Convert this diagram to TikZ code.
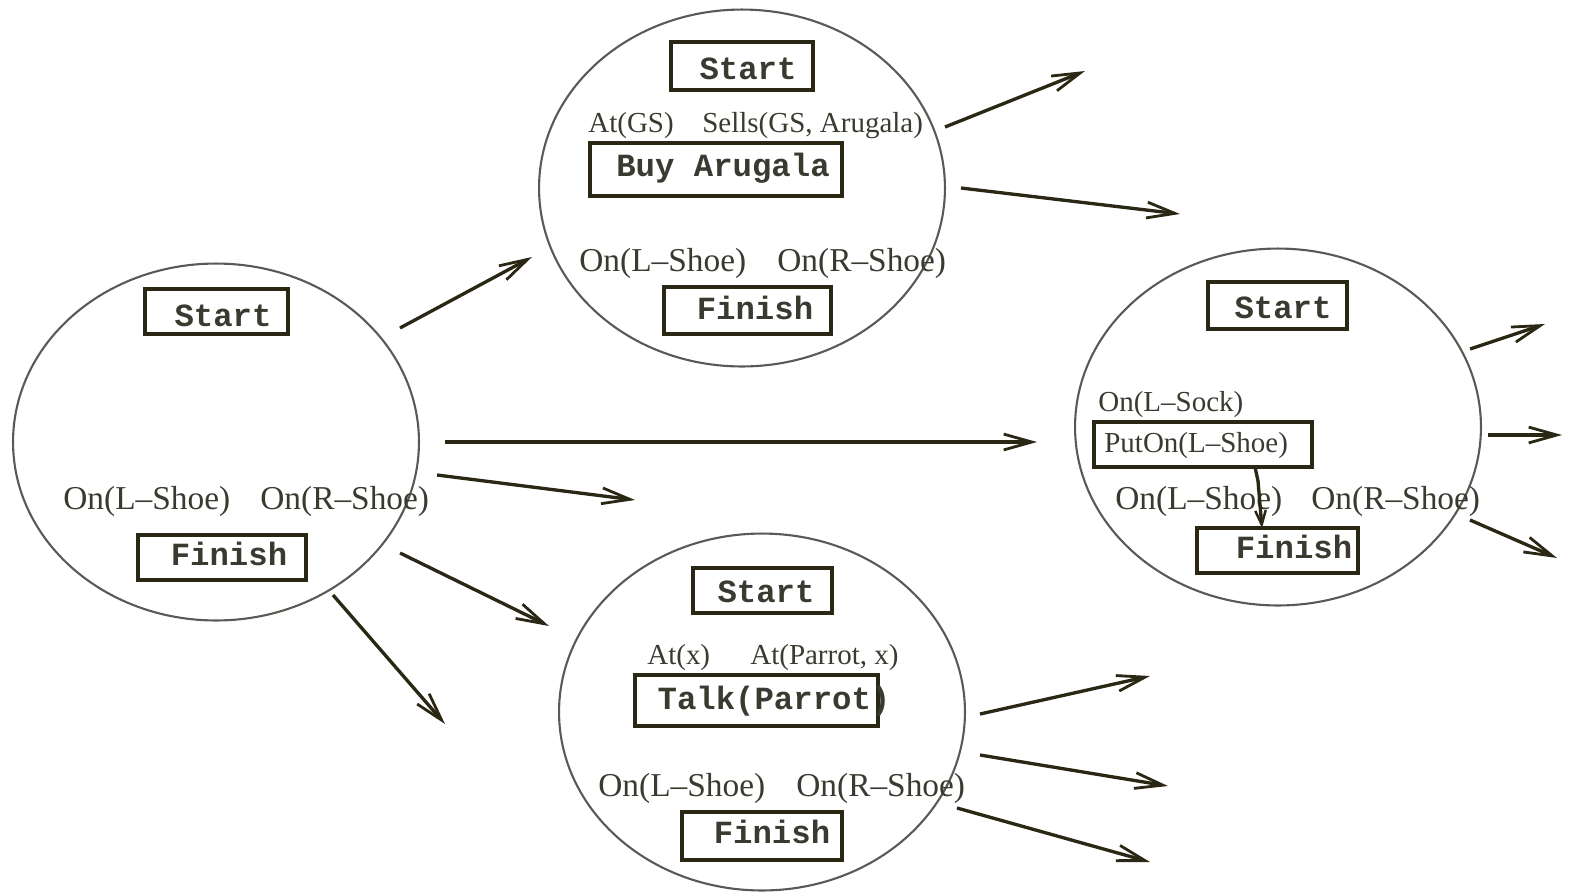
\documentclass[tikz,border=0pt]{standalone}
\usepackage{fontspec}
\setmainfont{Liberation Serif}
\setmonofont{Liberation Mono}
\usetikzlibrary{arrows.meta,shapes.geometric}
\definecolor{ink}{HTML}{2A2814}
\definecolor{ring}{HTML}{5A5A55}
\definecolor{txt}{HTML}{3A3A30}
\begin{document}
\begin{tikzpicture}[x=0.02cm,y=-0.02cm,
  state/.style={ellipse, draw=ring, line width=1.2pt, inner sep=0pt,
    minimum width=8.12cm, minimum height=7.14cm},
  act/.style 2 args={draw=ink, line width=1.9pt, inner sep=0pt,
    minimum width=#1*0.02cm, minimum height=#2*0.02cm},
  mono/.style={font=\fontsize{18.4}{20}\selectfont\ttfamily\bfseries, text=txt, inner sep=0pt},
  big/.style={font=\fontsize{19}{21}\selectfont, text=txt, inner sep=0pt, anchor=west, yshift=-0.06cm},
  small/.style={font=\fontsize{16.5}{18}\selectfont, text=txt, inner sep=0pt, anchor=west, yshift=-0.07cm},
  flow/.style={draw=ink, line width=1.9pt,
    -{Straight Barb[length=16pt,width=9pt,line width=1.6pt]}},
  link/.style={draw=ink, line width=1.9pt,
    -{Straight Barb[length=8pt,width=6pt,line width=1.4pt]}}]
\useasboundingbox (0,0) rectangle (1569,894);

% ---- initial plan ----
\node[state] (P0) at (216,442) {};
\node[act={143}{45}] (p0s) at (216.5,311.5) {};
\node[mono] (p0st) at (223,316) {Start};
\node[big] (p0a) at (63,498) {On(L–Shoe)};
\node[big] (p0b) at (260,498) {On(R–Shoe)};
\node[act={168}{45}] (p0f) at (222,557.5) {};
\node[mono] (p0ft) at (229,554) {Finish};

% ---- refinement: buy arugala ----
\node[state] (P1) at (742,188) {};
\node[act={142}{48}] (p1s) at (742,66) {};
\node[mono] (p1st) at (748,69) {Start};
\node[small] (p1a) at (588,122) {At(GS)};
\node[small] (p1b) at (702,122) {Sells(GS, Arugala)};
\node[act={252}{53}] (p1x) at (716,169.5) {};
\node[mono] (p1xt) at (723,168) {Buy Arugala};
\node[big] (p1c) at (579,260) {On(L–Shoe)};
\node[big] (p1d) at (777,260) {On(R–Shoe)};
\node[act={167}{47}] (p1f) at (747.5,310.5) {};
\node[mono] (p1ft) at (755,308) {Finish};

% ---- refinement: put on left shoe ----
\node[state] (P2) at (1278,427) {};
\node[act={139}{47}] (p2s) at (1277.5,305.5) {};
\node[mono] (p2st) at (1283,308) {Start};
\node[small] (p2a) at (1098,401) {On(L–Sock)};
\node[act={218}{45}] (p2x) at (1203,444.5) {};
\node[small] (p2xt) at (1104,442) {PutOn(L–Shoe)};
\node[big] (p2c) at (1115,498) {On(L–Shoe)};
\node[big] (p2d) at (1311,498) {On(R–Shoe)};
\node[act={161}{45}] (p2f) at (1277.5,550.5) {};
\node[mono] (p2ft) at (1294,547) {Finish};
\coordinate (k0) at (1255,467);
\coordinate (k1) at (1258,481);
\coordinate (k2) at (1262,528);
\draw[link] (k0) -- (k1) -- (k2);

% ---- refinement: talk to parrot ----
\node[state] (P3) at (762,712) {};
\node[act={139}{45}] (p3s) at (762.5,590.5) {};
\node[mono] (p3st) at (766,592) {Start};
\node[small] (p3a) at (647,654) {At(x)};
\node[small] (p3b) at (750,654) {At(Parrot, x)};
\node[act={243}{51}] (p3x) at (756.5,700.5) {};
\node[mono] (p3xt) at (774,701) {Talk(Parrot)};
\node[big] (p3c) at (598,785) {On(L–Shoe)};
\node[big] (p3d) at (796,785) {On(R–Shoe)};
\node[act={160}{48}] (p3f) at (762,836) {};
\node[mono] (p3ft) at (772,832) {Finish};

% ---- successor arrows ----
\coordinate (a1s) at (400,328);  \coordinate (a1e) at (532,257);
\coordinate (a2s) at (445,442);  \coordinate (a2e) at (1037,442);
\coordinate (a3s) at (437,475);  \coordinate (a3e) at (635,500);
\coordinate (a4s) at (400,553);  \coordinate (a4e) at (549,626);
\coordinate (a5s) at (333,595);  \coordinate (a5e) at (445,724);
\coordinate (b1s) at (945,127);  \coordinate (b1e) at (1085,71);
\coordinate (b2s) at (961,188);  \coordinate (b2e) at (1180,214);
\coordinate (c1s) at (1470,349); \coordinate (c1e) at (1545,324);
\coordinate (c2s) at (1488,435); \coordinate (c2e) at (1562,435);
\coordinate (c3s) at (1470,520); \coordinate (c3e) at (1557,558);
\coordinate (d1s) at (980,714);  \coordinate (d1e) at (1150,676);
\coordinate (d2s) at (980,755);  \coordinate (d2e) at (1168,786);
\coordinate (d3s) at (957,808);  \coordinate (d3e) at (1150,862);
\foreach \s/\e in {a1s/a1e,a2s/a2e,a3s/a3e,a4s/a4e,a5s/a5e,b1s/b1e,b2s/b2e,
                   c1s/c1e,c2s/c2e,c3s/c3e,d1s/d1e,d2s/d2e,d3s/d3e}
  \draw[flow] (\s) -- (\e);
\end{tikzpicture}
\end{document}
